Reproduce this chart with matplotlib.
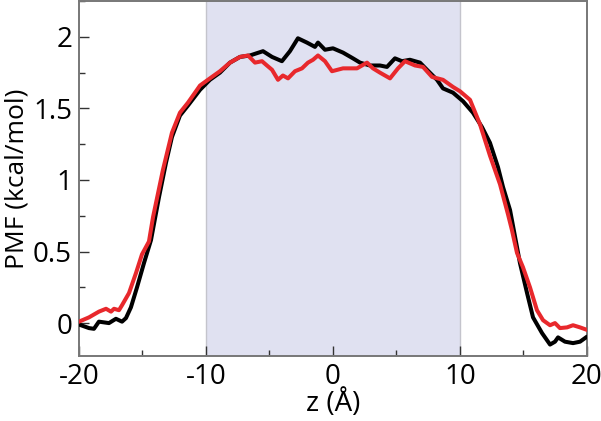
import numpy as np
import matplotlib
matplotlib.use("Agg")
import matplotlib.pyplot as plt
from matplotlib.ticker import MultipleLocator

# PMF profiles (z in Angstrom, PMF in kcal/mol)
z_black = [-20.0, -19.21, -18.82, -18.43, -17.64, -17.09, -16.61, -16.30, -15.91, -15.43,
           -14.88, -14.33, -13.70, -13.15, -12.68, -12.05, -11.42, -10.47, -9.69, -8.90,
           -8.11, -7.32, -6.54, -5.51, -4.80, -4.02, -3.39, -2.76, -2.05, -1.42,
           -1.18, -0.63, 0.0, 0.79, 1.57, 2.13, 2.91, 3.70, 4.25, 4.88,
           5.43, 6.06, 6.85, 7.40, 8.19, 8.66, 9.45, 10.24, 11.02, 11.73,
           12.36, 12.99, 13.39, 13.94, 14.49, 14.72, 15.28, 15.75, 16.46, 17.09,
           17.48, 17.72, 18.27, 18.90, 19.45, 19.92]
pmf_black = [-0.01, -0.035, -0.04, 0.01, 0.0, 0.03, 0.01, 0.035, 0.11, 0.25,
             0.42, 0.58, 0.88, 1.12, 1.30, 1.45, 1.52, 1.63, 1.70, 1.75,
             1.82, 1.86, 1.87, 1.90, 1.86, 1.83, 1.90, 1.99, 1.96, 1.93,
             1.96, 1.91, 1.92, 1.89, 1.85, 1.82, 1.80, 1.80, 1.79, 1.85,
             1.83, 1.84, 1.82, 1.77, 1.70, 1.64, 1.61, 1.55, 1.47, 1.37,
             1.26, 1.09, 0.95, 0.79, 0.53, 0.42, 0.21, 0.04, -0.07, -0.15,
             -0.13, -0.10, -0.13, -0.14, -0.13, -0.10]

z_red = [-20.0, -19.21, -18.43, -17.87, -17.48, -17.24, -16.85, -16.61, -16.06, -15.51,
         -15.04, -14.49, -14.17, -13.39, -12.68, -12.05, -11.42, -10.47, -9.69, -8.90,
         -8.11, -7.32, -6.69, -6.14, -5.59, -5.20, -4.80, -4.33, -3.94, -3.54,
         -2.99, -2.44, -1.97, -1.57, -1.18, -0.63, -0.08, 0.79, 1.89, 2.68,
         3.15, 3.70, 4.49, 5.12, 5.67, 6.46, 7.09, 7.80, 8.66, 9.45,
         10.0, 10.79, 11.57, 12.36, 13.15, 13.78, 14.09, 14.49, 14.96, 15.51,
         16.06, 16.54, 17.09, 17.48, 17.87, 18.43, 18.90, 19.45, 19.92]
pmf_red = [0.01, 0.04, 0.08, 0.10, 0.08, 0.10, 0.09, 0.125, 0.21, 0.35,
           0.48, 0.57, 0.74, 1.07, 1.33, 1.47, 1.54, 1.66, 1.71, 1.76,
           1.82, 1.86, 1.87, 1.82, 1.83, 1.80, 1.77, 1.70, 1.73, 1.71,
           1.76, 1.78, 1.82, 1.84, 1.87, 1.83, 1.76, 1.78, 1.78, 1.82,
           1.78, 1.75, 1.71, 1.78, 1.83, 1.80, 1.79, 1.72, 1.70, 1.65,
           1.62, 1.56, 1.39, 1.17, 0.97, 0.76, 0.65, 0.49, 0.39, 0.25,
           0.09, 0.02, -0.015, 0.0, -0.035, -0.03, -0.015, -0.03, -0.045]

region = [-10, 10]
x_ticks = [-20, -10, 0, 10, 20]
y_ticks = [0, 0.5, 1, 1.5, 2]
y_ticklabels = ["0", "0.5", "1", "1.5", "2"]

plt.rcParams["font.family"] = ["Open Sans", "DejaVu Sans"]

fig = plt.figure(figsize=(6.01, 4.21), dpi=100)
ax = fig.add_axes([0.1314, 0.1544, 0.8453, 0.843])

ax.axvspan(region[0], region[1], color="#e0e1f1", zorder=0, lw=0)
for xv in region:
    ax.axvline(xv, color="#c4c4cc", lw=1.0, zorder=1)

ax.plot(z_black, pmf_black, color="black", lw=2.9, zorder=3)
ax.plot(z_red, pmf_red, color="#e8282c", lw=2.9, zorder=4)

ax.set_xlim(-20, 20)
ax.set_ylim(-0.23, 2.25)
ax.set_xticks(x_ticks)
ax.set_xticklabels([str(v) for v in x_ticks])
ax.set_yticks(y_ticks)
ax.set_yticklabels(y_ticklabels)
ax.xaxis.set_minor_locator(MultipleLocator(5))
ax.yaxis.set_minor_locator(MultipleLocator(0.25))

ax.tick_params(which="major", direction="in", length=7, width=1, color="#333333",
               labelsize=20, pad=5)
ax.tick_params(which="minor", direction="in", length=4.5, width=1, color="#333333")
ax.tick_params(top=False, right=False)

for sp in ax.spines.values():
    sp.set_color("#777777")
    sp.set_linewidth(1.4)

ax.set_xlabel("z (Å)", fontsize=20, labelpad=-1)
ax.set_ylabel("PMF (kcal/mol)", fontsize=19)
ax.yaxis.set_label_coords(-0.098, 0.5)

fig.savefig("out.png", dpi=100)
